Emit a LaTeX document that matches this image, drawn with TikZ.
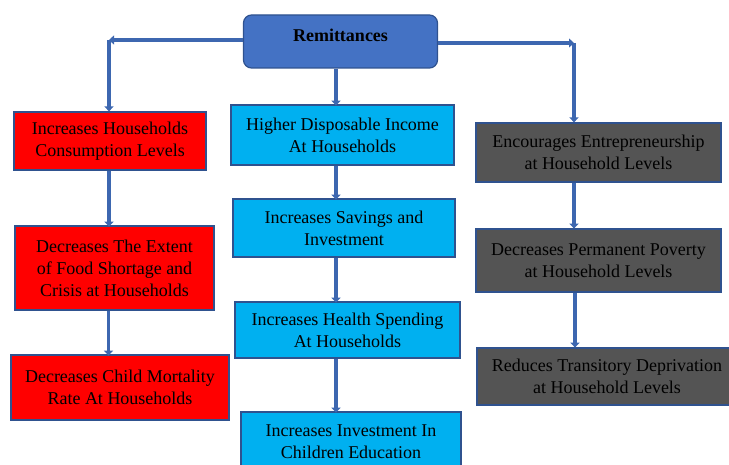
\documentclass[tikz,border=0pt]{standalone}
\usepackage{fontspec}
\setmainfont{LiberationSerif}[Extension=.ttf,UprightFont=*-Regular,BoldFont=*-Bold]
\usetikzlibrary{arrows.meta}
\definecolor{remblue}{HTML}{4472C4}
\definecolor{edgeblue}{HTML}{2F528F}
\definecolor{skyblue}{HTML}{00B0F0}
\definecolor{darkgrey}{HTML}{545454}
\tikzset{
  box/.style={draw=edgeblue,line width=1.2pt,align=center,inner sep=0pt,
    font=\fontsize{18}{22}\selectfont},
  redbox/.style={box,fill=red},
  bluebox/.style={box,fill=skyblue},
  greybox/.style={box,fill=darkgrey,text=black},
  link/.style={draw=remblue!90!black,line width=3.4pt,-{Triangle[length=5pt,width=9pt]}}
}
\begin{document}
\begin{tikzpicture}[x=1pt,y=-1pt]
                \useasboundingbox (0,0) rectangle (729,465);
                \node[box,fill=remblue,rounded corners=8pt,minimum width=194pt,minimum height=53pt,text depth=12pt,font=\fontsize{18}{22}\selectfont\bfseries] (rem) at (340.5,41.5) {Remittances};
                % left column
                \node[redbox,minimum width=192pt,minimum height=58pt] (r1) at (110,141) {Increases Households\\Consumption Levels};
                \node[redbox,minimum width=199pt,minimum height=84pt] (r2) at (114.5,268) {Decreases The Extent\\of Food Shortage and\\Crisis at Households};
                \node[redbox,minimum width=218pt,minimum height=65pt] (r3) at (120,387.5) {Decreases Child Mortality\\Rate At Households};
                % middle column
                \node[bluebox,minimum width=223pt,minimum height=60pt] (b1) at (342.5,135) {Higher Disposable Income\\At Households};
                \node[bluebox,minimum width=222pt,minimum height=58pt] (b2) at (344,228) {Increases Savings and\\Investment};
                \node[bluebox,minimum width=225pt,minimum height=56pt] (b3) at (347.5,330) {Increases Health Spending\\At Households};
                \node[bluebox,minimum width=220pt,minimum height=60pt] (b4) at (351,442) {Increases Investment In\\Children Education};
                % right column
                \node[greybox,minimum width=245pt,minimum height=59pt] (g1) at (598.5,152.5) {Encourages Entrepreneurship\\at Household Levels};
                \node[greybox,minimum width=245pt,minimum height=63pt] (g2) at (598.5,260.5) {Decreases Permanent Poverty\\at Household Levels};
                \node[greybox,minimum width=260pt,minimum height=57pt] (g3) at (607,376.5) {Reduces Transitory Deprivation\\at Household Levels};
                % connectors
                \coordinate (cl) at (109,40);
                \coordinate (cr) at (574,43);
                \draw[link] (rem.west |- cl) -- (cl);
                \draw[link] (cl) -- (cl |- r1.north);
                \draw[link] (rem.east |- cr) -- (cr);
                \draw[link] (cr) -- (cr |- g1.north);
                \draw[link] (rem.south -| b1.north) ++(-6.5,0) -- ++(0,37);
                \draw[link] (r1.south) ++(-1,0) -- ++(0,56);
                \draw[link] (r2.south) ++(-6,0) -- ++(0,45);
                \draw[link] (b1.south) ++(-6.5,0) -- ++(0,34);
                \draw[link] (b2.south) ++(-8,0) -- ++(0,45);
                \draw[link] (b3.south) ++(-11.5,0) -- ++(0,54);
                \draw[link] (g1.south) ++(-24.5,0) -- ++(0,46);
                \draw[link] (g2.south) ++(-23.5,0) -- ++(0,55);
            \end{tikzpicture}
\end{document}
